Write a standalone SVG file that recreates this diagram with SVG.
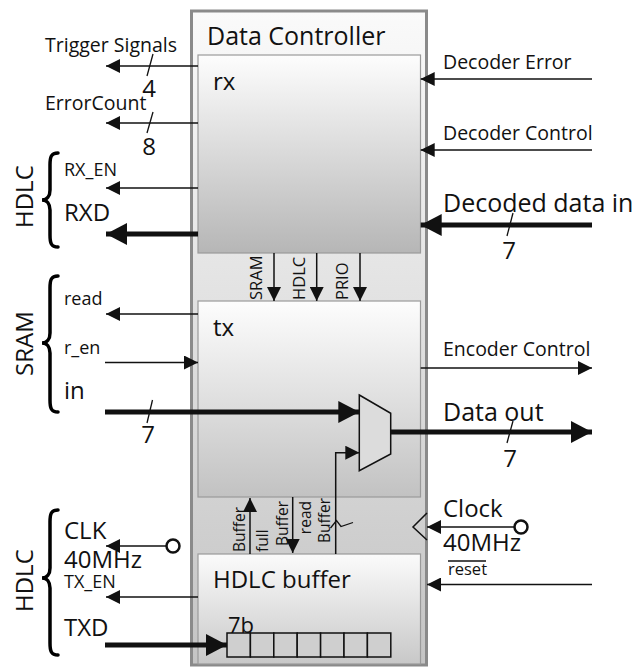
<svg xmlns="http://www.w3.org/2000/svg" width="638" height="667" viewBox="0 0 638 667">
<style>
text{font-family:"Open Sans","Liberation Sans",sans-serif;fill:#111}
.big{font-size:24px}
.xl{font-size:25px}
.med{font-size:19.5px}
.sm{font-size:18px}
.tiny{font-size:16.5px}
.bt{font-size:15.5px}
.thin{stroke:#111;stroke-width:1.5;fill:none}
.thick{stroke:#111;stroke-width:5;fill:none}
.slash{stroke:#111;stroke-width:1.3;fill:none}
.brace{stroke:#000;stroke-width:3.5;fill:none;stroke-linecap:round}
.box{stroke:#9a9a9a;stroke-width:1.2}
</style>
<defs>
<linearGradient id="gOuter" x1="0" y1="0" x2="0" y2="1"><stop offset="0" stop-color="#fafafa"/><stop offset="1" stop-color="#c4c4c4"/></linearGradient>
<linearGradient id="gRx" x1="0" y1="0" x2="0" y2="1"><stop offset="0" stop-color="#fdfdfd"/><stop offset="1" stop-color="#b6b6b6"/></linearGradient>
<linearGradient id="gTx" x1="0" y1="0" x2="0" y2="1"><stop offset="0" stop-color="#fdfdfd"/><stop offset="1" stop-color="#c2c2c2"/></linearGradient>
<linearGradient id="gBuf" x1="0" y1="0" x2="0" y2="1"><stop offset="0" stop-color="#fbfbfb"/><stop offset="1" stop-color="#c8c8c8"/></linearGradient>
<marker id="aT" markerUnits="userSpaceOnUse" markerWidth="14" markerHeight="14" refX="14" refY="7" orient="auto"><path d="M0,0 L14,7 L0,14 z" fill="#111"/></marker>
<marker id="aB" markerUnits="userSpaceOnUse" markerWidth="21" markerHeight="22" refX="21" refY="11" orient="auto"><path d="M0,0 L21,11 L0,22 z" fill="#111"/></marker>
</defs>

<g id="data-controller">
<rect x="191.5" y="11" width="235" height="654" fill="url(#gOuter)" stroke="#8a8a8a" stroke-width="3"/>
<text class="xl" x="207" y="45">Data Controller</text>
</g>
<g id="rx">
<rect class="box" x="198" y="55" width="222.5" height="198" fill="url(#gRx)"/>
<text class="big" x="213" y="90">rx</text>
</g>
<g id="tx">
<rect class="box" x="198" y="301" width="222.5" height="196" fill="url(#gTx)"/>
<text class="big" x="213" y="336">tx</text>
</g>
<g id="hdlc-buffer">
<rect class="box" x="198" y="554" width="222.5" height="110" fill="url(#gBuf)"/>
<text class="big" x="213" y="588">HDLC buffer</text>
<g fill="#cfcfcf" stroke="#111" stroke-width="1.5">
<rect x="227" y="633" width="23.4" height="24"/>
<rect x="250.4" y="633" width="23.4" height="24"/>
<rect x="273.8" y="633" width="23.4" height="24"/>
<rect x="297.2" y="633" width="23.4" height="24"/>
<rect x="320.6" y="633" width="23.4" height="24"/>
<rect x="344" y="633" width="23.4" height="24"/>
<rect x="367.4" y="633" width="23.4" height="24"/>
</g>
<text style="font-size:22px" x="228" y="633">7b</text>
</g>
<g id="mux">
<polygon points="359.3,395 390.7,413.3 390.7,454 359.3,470.7" fill="#dcdcdc" stroke="#111" stroke-width="1.5"/>
</g>

<g id="connectors">
<line class="thin" x1="198" y1="66" x2="106" y2="66" marker-end="url(#aT)"/>
<line class="slash" x1="153" y1="54" x2="147" y2="76"/>
<line class="thin" x1="198" y1="123" x2="106" y2="123" marker-end="url(#aT)"/>
<line class="slash" x1="153" y1="112" x2="147" y2="133"/>
<line class="thin" x1="198" y1="188" x2="106" y2="188" marker-end="url(#aT)"/>
<line class="thick" x1="198" y1="234" x2="106" y2="234" marker-end="url(#aB)"/>
<line class="thin" x1="592" y1="79" x2="420.7" y2="79" marker-end="url(#aT)"/>
<line class="thin" x1="592" y1="150" x2="420.7" y2="150" marker-end="url(#aT)"/>
<line class="thick" x1="592" y1="225" x2="420.7" y2="225" marker-end="url(#aB)"/>
<line class="slash" x1="513" y1="213" x2="507" y2="236"/>
<line class="thin" x1="274" y1="253" x2="274" y2="301" marker-end="url(#aT)"/>
<line class="thin" x1="316.7" y1="253" x2="316.7" y2="301" marker-end="url(#aT)"/>
<line class="thin" x1="360" y1="253" x2="360" y2="301" marker-end="url(#aT)"/>
<line class="thin" x1="198" y1="314" x2="106" y2="314" marker-end="url(#aT)"/>
<line class="thin" x1="105" y1="362.5" x2="198" y2="362.5" marker-end="url(#aT)"/>
<line class="thick" x1="105" y1="412" x2="359.3" y2="412" marker-end="url(#aB)"/>
<line class="slash" x1="152.5" y1="400" x2="147" y2="423"/>
<line class="thin" x1="420.7" y1="368" x2="592" y2="368" marker-end="url(#aT)"/>
<line class="thick" x1="390.7" y1="432" x2="592" y2="432" marker-end="url(#aB)"/>
<line class="slash" x1="513" y1="421" x2="507" y2="443"/>
<polyline class="thin" points="335.7,554 335.7,452.7 359.3,452.7" marker-end="url(#aT)"/>
<polyline class="slash" points="330.5,528 336.5,520.5 341,526.5 353,522.5"/>
<line class="thin" x1="250" y1="554" x2="250" y2="498" marker-end="url(#aT)"/>
<line class="thin" x1="292.7" y1="497" x2="292.7" y2="553" marker-end="url(#aT)"/>
<line class="thin" x1="166.5" y1="546" x2="106" y2="546" marker-end="url(#aT)"/>
<circle cx="173" cy="546" r="6.5" fill="#fff" stroke="#111" stroke-width="2.5"/>
<line class="thin" x1="198" y1="597" x2="106" y2="597" marker-end="url(#aT)"/>
<line class="thick" x1="105" y1="645" x2="227" y2="645" marker-end="url(#aB)"/>
<line class="thin" x1="514.5" y1="527" x2="427" y2="527" marker-end="url(#aT)"/>
<circle cx="521" cy="527" r="6.5" fill="#fff" stroke="#111" stroke-width="2.5"/>
<polyline class="thin" points="427,513 413,527 427,540" stroke-width="1.3"/>
<line class="thin" x1="592" y1="584.5" x2="427" y2="584.5" marker-end="url(#aT)"/>
<line class="slash" x1="448" y1="561" x2="486" y2="561"/>
<path class="brace" d="M58,153 C51,153 50,157 50,165 L50,190 C50,196 47,200 42,200 C47,200 50,204 50,210 L50,235 C50,243 51,247 58,247"/>
<path class="brace" d="M58,276 C51,276 50,280 50,288 L50,333 C50,339 47,343 42,343 C47,343 50,347 50,353 L50,400 C50,408 51,412 58,412"/>
<path class="brace" d="M58,510 C51,510 50,514 50,522 L50,568 C50,574 47,578 42,578 C47,578 50,582 50,588 L50,643 C50,651 51,655 58,655"/>
</g>

<g id="labels">
<text class="med" x="45" y="52">Trigger Signals</text>
<text class="big" x="149" y="97" text-anchor="middle">4</text>
<text class="med" x="45" y="110">ErrorCount</text>
<text class="big" x="149" y="155" text-anchor="middle">8</text>
<text class="big" transform="translate(33,228) rotate(-90)">HDLC</text>
<text class="sm" x="64" y="176">RX_EN</text>
<text class="big" x="64" y="221">RXD</text>
<text class="big" transform="translate(33,376) rotate(-90)">SRAM</text>
<text class="sm" x="64" y="305">read</text>
<text class="sm" x="64" y="354">r_en</text>
<text class="big" x="64" y="399">in</text>
<text class="big" x="148" y="443" text-anchor="middle">7</text>
<text class="big" transform="translate(33,612) rotate(-90)">HDLC</text>
<text class="big" x="64" y="539">CLK</text>
<text class="big" x="64" y="568">40MHz</text>
<text class="sm" x="64" y="588">TX_EN</text>
<text class="big" x="64" y="636">TXD</text>

<text class="med" x="443" y="69">Decoder Error</text>
<text class="med" x="443" y="140">Decoder Control</text>
<text class="xl" x="443" y="212">Decoded data in</text>
<text class="big" x="509" y="259" text-anchor="middle">7</text>
<text class="med" x="443" y="356">Encoder Control</text>
<text class="xl" x="443" y="421">Data out</text>
<text class="big" x="510" y="467" text-anchor="middle">7</text>
<text class="big" x="443" y="517">Clock</text>
<text class="big" x="443" y="551">40MHz</text>
<text class="tiny" x="448" y="575">reset</text>

<text class="tiny" transform="translate(262,300) rotate(-90)">SRAM</text>
<text class="tiny" transform="translate(305,300) rotate(-90)">HDLC</text>
<text class="tiny" transform="translate(348,300) rotate(-90)">PRIO</text>
<text class="bt" transform="translate(245,552) rotate(-90)">Buffer</text>
<text class="bt" transform="translate(268,552) rotate(-90)">full</text>
<text class="bt" transform="translate(288,501) rotate(-90)" text-anchor="end">Buffer</text>
<text class="bt" transform="translate(310.5,501) rotate(-90)" text-anchor="end">read</text>
<text class="bt" transform="translate(330,498) rotate(-90)" text-anchor="end">Buffer</text>
</g>
</svg>
